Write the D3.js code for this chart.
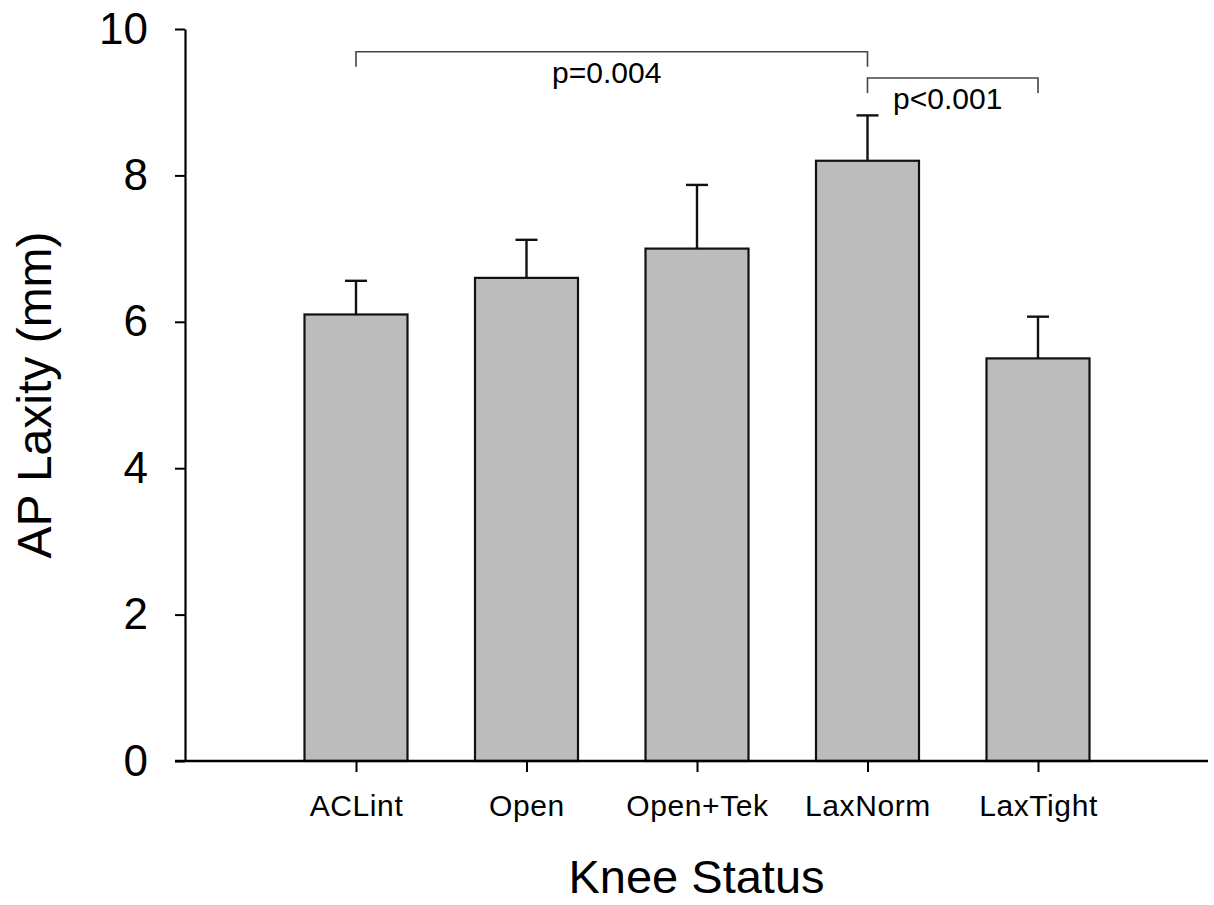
<!DOCTYPE html>
<html>
<head>
<meta charset="utf-8">
<script src="https://cdn.jsdelivr.net/npm/d3@7"></script>
<style>
	body { margin: 0; background: #fff; }
	svg { font-family: "Liberation Sans", Arial, sans-serif; }
</style>
</head>
<body>
<svg width="1214" height="905"></svg>
<script>
var categories = ['ACLint', 'Open', 'Open+Tek', 'LaxNorm', 'LaxTight'];
var means = [6.1, 6.6, 7.0, 8.2, 5.5];
var errors = [0.46, 0.52, 0.87, 0.62, 0.57];
var yTicks = [0, 2, 4, 6, 8, 10];
var brackets = [
	{ from: 'ACLint', to: 'LaxNorm', level: 9.69, label: 'p=0.004' },
	{ from: 'LaxNorm', to: 'LaxTight', level: 9.33, label: 'p<0.001' }
];

var svg = d3.select('svg');

var plotLeft = 185;
var plotRight = 1208;
var plotTop = 29;
var plotBottom = 761;
var barWidth = 103;

var xScale = d3.scalePoint().domain(categories).range([356, 1038]);
var yScale = d3.scaleLinear().domain([0, 10]).range([plotBottom, plotTop]);

// bars
svg.selectAll('rect.bar')
	.data(categories)
	.enter()
	.append('rect')
	.attr('class', 'bar')
	.attr('x', function (d) { return xScale(d) - barWidth / 2; })
	.attr('y', function (d, i) { return yScale(means[i]); })
	.attr('width', barWidth)
	.attr('height', function (d, i) { return yScale(0) - yScale(means[i]); })
	.style('fill', '#bcbcbc')
	.style('stroke', '#111')
	.style('stroke-width', 2.2);

// error bars (upper only)
var err = svg.selectAll('g.err')
	.data(categories)
	.enter()
	.append('g')
	.attr('class', 'err')
	.style('stroke', '#111')
	.style('stroke-width', 2.4);

err.append('line')
	.attr('x1', function (d) { return xScale(d); })
	.attr('x2', function (d) { return xScale(d); })
	.attr('y1', function (d, i) { return yScale(means[i]); })
	.attr('y2', function (d, i) { return yScale(means[i] + errors[i]); });

err.append('line')
	.attr('x1', function (d) { return xScale(d) - 11; })
	.attr('x2', function (d) { return xScale(d) + 11; })
	.attr('y1', function (d, i) { return yScale(means[i] + errors[i]); })
	.attr('y2', function (d, i) { return yScale(means[i] + errors[i]); });

// y axis
var yAxis = d3.axisLeft(yScale)
	.tickValues(yTicks)
	.tickSize(10)
	.tickSizeOuter(0)
	.tickPadding(27);

var yg = svg.append('g')
	.attr('transform', 'translate(' + plotLeft + ',0)')
	.call(yAxis);
yg.select('.domain').style('stroke-width', 2.2);
yg.selectAll('.tick line').style('stroke-width', 2);
yg.selectAll('text')
	.style('font-size', '44px')
	.style('font-family', '"Liberation Sans", Arial, sans-serif')
	.style('fill', '#000');

// x axis
var xAxis = d3.axisBottom(xScale)
	.tickSize(11)
	.tickSizeOuter(0);

var xg = svg.append('g')
	.attr('transform', 'translate(0,' + plotBottom + ')')
	.call(xAxis);
xg.select('.domain').remove();
xg.selectAll('.tick line').style('stroke-width', 2);
xg.selectAll('text')
	.attr('y', 55)
	.attr('dy', 0)
	.style('font-size', '30px')
	.style('letter-spacing', '0.6px')
	.style('font-family', '"Liberation Sans", Arial, sans-serif')
	.style('fill', '#000');

svg.append('line')
	.attr('x1', plotLeft - 10)
	.attr('x2', plotRight)
	.attr('y1', plotBottom)
	.attr('y2', plotBottom)
	.style('stroke', '#000')
	.style('stroke-width', 2.4);

// significance brackets
var br = svg.selectAll('g.bracket')
	.data(brackets)
	.enter()
	.append('g')
	.attr('class', 'bracket');

br.append('path')
	.attr('d', function (d) {
		var x1 = xScale(d.from);
		var x2 = xScale(d.to);
		var y = yScale(d.level);
		return 'M' + x1 + ',' + (y + 15) + 'V' + y + 'H' + x2 + 'V' + (y + 15);
	})
	.style('fill', 'none')
	.style('stroke', '#444')
	.style('stroke-width', 1.6);

br.append('text')
	.attr('x', function (d) { return (xScale(d.from) + xScale(d.to)) / 2 - 5; })
	.attr('y', function (d) { return yScale(d.level) + 31; })
	.style('text-anchor', 'middle')
	.style('font-size', '30px')
	.text(function (d) { return d.label; });

// axis titles
svg.append('text')
	.attr('x', (plotLeft + plotRight) / 2)
	.attr('y', 893)
	.style('text-anchor', 'middle')
	.style('font-size', '47px')
	.text('Knee Status');

svg.append('text')
	.attr('transform', 'translate(51,' + ((plotTop + plotBottom) / 2) + ') rotate(-90)')
	.style('text-anchor', 'middle')
	.style('font-size', '48px')
	.text('AP Laxity (mm)');
</script>
</body>
</html>
